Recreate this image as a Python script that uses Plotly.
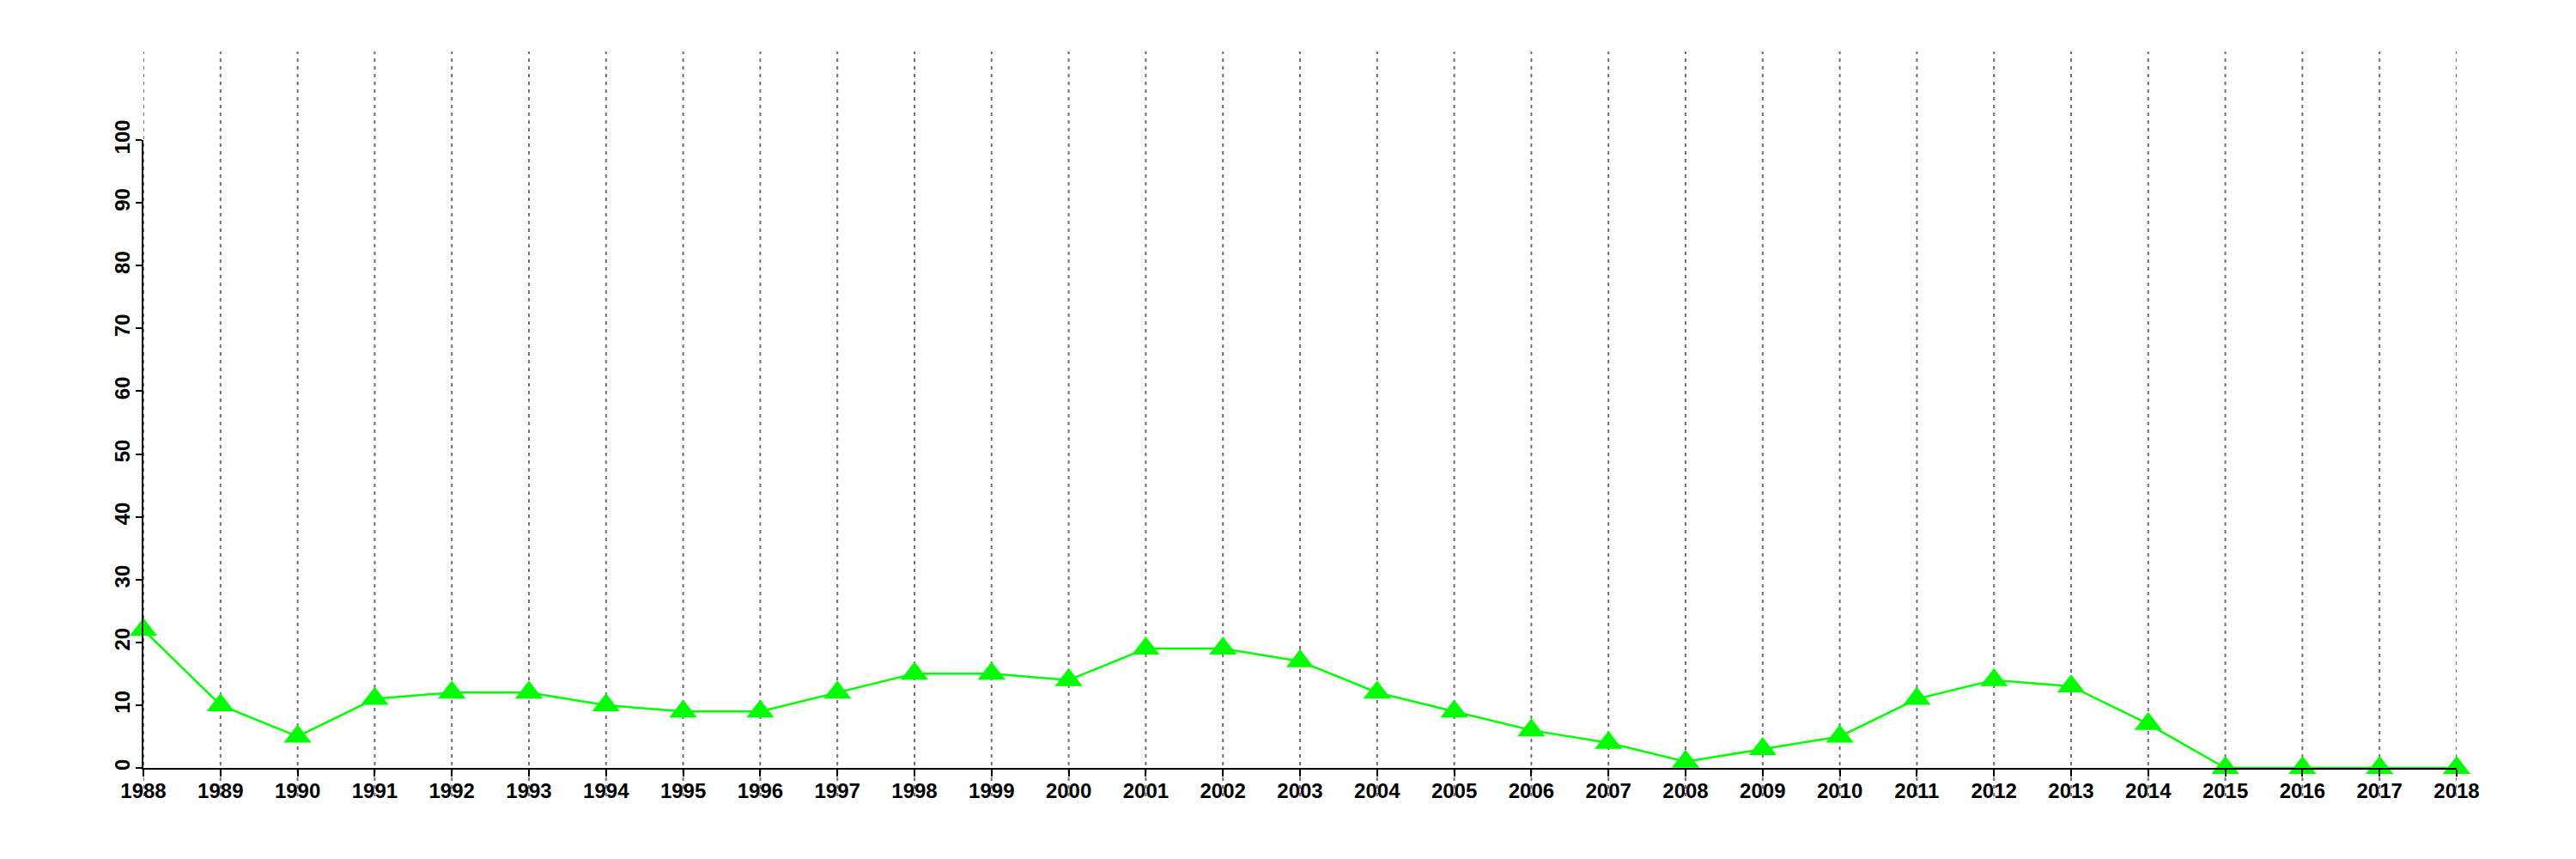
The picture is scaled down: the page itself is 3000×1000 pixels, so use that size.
import plotly.graph_objects as go

years = list(range(1988, 2019))
values = [22, 10, 5, 11, 12, 12, 10, 9, 9, 12, 15, 15, 14, 19, 19, 17, 12, 9, 6, 4,
          1, 3, 5, 11, 14, 13, 7, 0, 0, 0, 0]
y_ticks = list(range(0, 101, 10))

# page has an 8px body margin, so the figure is shifted by (8, 8)
W, H = 2984, 984
L, R, T, B = 159, 131, 155, 98
plot_h = H - T - B

fig = go.Figure()
fig.add_trace(go.Scatter(
    x=years, y=values, mode="lines+markers",
    line=dict(color="#00FF00", width=2.5),
    marker=dict(symbol="triangle-up", size=28, color="#00FF00"),
    cliponaxis=False, showlegend=False,
))

y_top = 1 + (T - 52) / plot_h
y_bot = -(919 - (H - B)) / plot_h
for yr in years:
    fig.add_shape(type="line", xref="x", yref="paper", x0=yr, x1=yr,
                  y0=y_bot, y1=y_top, layer="below",
                  line=dict(color="#707070", width=2, dash="4px,5px"))

font = dict(family="Liberation Sans, Arial, sans-serif", size=24, color="black", weight="bold")
fig.update_layout(
    width=W, height=H,
    margin=dict(l=L, r=R, t=T, b=B),
    paper_bgcolor="white", plot_bgcolor="white",
    font=font,
)
fig.update_xaxes(range=[years[0], years[-1]], tickvals=years, ticktext=[str(y) for y in years],
                 showgrid=False, zeroline=False, showline=True, linecolor="black", linewidth=2,
                 ticks="outside", ticklen=8, tickwidth=2, tickcolor="black", tickfont=font,
                 ticklabelstandoff=-4)
fig.update_yaxes(range=[0, 100], tickvals=y_ticks, ticktext=[str(v) for v in y_ticks],
                 showgrid=False, zeroline=False, showline=True, linecolor="black", linewidth=2,
                 ticks="outside", ticklen=7, tickwidth=2, tickcolor="black", tickangle=-90,
                 tickfont=font, ticklabelstandoff=-3)

fig.write_html("out.html")
